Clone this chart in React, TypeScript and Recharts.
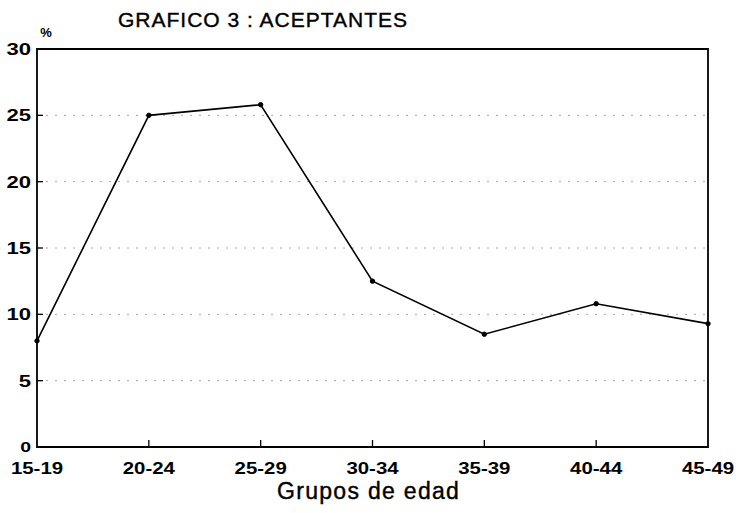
import React from "react";
import {
  LineChart,
  Line,
  XAxis,
  YAxis,
  CartesianGrid,
  ReferenceArea,
} from "recharts";

const categories = ["15-19", "20-24", "25-29", "30-34", "35-39", "40-44", "45-49"];
const aceptantes = [8.0, 25.0, 25.8, 12.5, 8.5, 10.8, 9.3];
const yTicks = [0, 5, 10, 15, 20, 25, 30];
const title = "GRAFICO 3 : ACEPTANTES";
const xTitle = "Grupos de edad";
const yUnit = "%";

const data = categories.map((c, i) => ({ grupo: c, valor: aceptantes[i] }));

const FONT = "'Liberation Sans', Arial, Helvetica, sans-serif";

const XTick = (props: any) => {
  const { x, y, payload, index } = props;
  const last = index === categories.length - 1;
  return (
    <g>
      {index > 0 && !last && (
        <line x1={x} y1={y} x2={x} y2={y - 7} stroke="#000" strokeWidth={1.3} />
      )}
      <text
        transform={`translate(${x},${y + 27}) scale(1.2,1)`}
        x={0}
        y={0}
        textAnchor="middle"
        fontFamily={FONT}
        fontWeight="bold"
        fontSize={17}
        fill="#000"
      >
        {payload.value}
      </text>
    </g>
  );
};

const YTick = (props: any) => {
  const { x, y, payload } = props;
  const v = payload.value;
  return (
    <g>
      {v > 0 && v < 30 && (
        <line x1={x} y1={y} x2={x + 6} y2={y} stroke="#000" strokeWidth={1.3} />
      )}
      <text
        transform={`translate(${x - 6},${y + (v === 0 ? 5 : 6)}) scale(1.3,1)`}
        x={0}
        y={0}
        textAnchor="end"
        fontFamily={FONT}
        fontWeight="bold"
        fontSize={v === 0 ? 15 : 17}
        fill="#000"
      >
        {v}
      </text>
    </g>
  );
};

export default function App() {
  return (
    <div style={{ position: "absolute", left: 0, top: 0, width: 736, height: 513, background: "#fff" }}>
      <LineChart
        width={736}
        height={513}
        data={data}
        margin={{ top: 49, right: 28, left: 0, bottom: 0 }}
      >
        <CartesianGrid
          horizontal={true}
          vertical={false}
          stroke="#a8a8a8"
          strokeDasharray="2 7"
        />
        <XAxis
          dataKey="grupo"
          scale="point"
          padding={{ left: 0, right: 0 }}
          height={66}
          tickSize={0}
          tickMargin={0}
          tickLine={false}
          axisLine={false}
          tick={<XTick />}
          interval={0}
        />
        <YAxis
          domain={[0, 30]}
          ticks={yTicks}
          width={37}
          tickSize={0}
          tickMargin={0}
          tickLine={false}
          axisLine={false}
          tick={<YTick />}
          interval={0}
        />
        <ReferenceArea
          x1={categories[0]}
          x2={categories[categories.length - 1]}
          y1={0}
          y2={30}
          fill="none"
          stroke="#000"
          strokeWidth={1.8}
          ifOverflow="visible"
        />
        <Line
          type="linear"
          dataKey="valor"
          stroke="#000"
          strokeWidth={1.6}
          dot={{ r: 2.2, fill: "#000", stroke: "#000", strokeWidth: 1 }}
          isAnimationActive={false}
        />
        <text
          x={118}
          y={27}
          textAnchor="start"
          fontFamily={FONT}
          fontSize={21}
          letterSpacing={1}
          stroke="#000"
          strokeWidth={0.4}
          fill="#000"
        >
          {title}
        </text>
        <text
          x={46}
          y={37}
          textAnchor="middle"
          fontFamily={FONT}
          fontWeight="bold"
          fontSize={13}
          fill="#000"
        >
          {yUnit}
        </text>
        <text
          x={277}
          y={499}
          textAnchor="start"
          fontFamily={FONT}
          fontSize={23}
          letterSpacing={1.3}
          stroke="#000"
          strokeWidth={0.4}
          fill="#000"
        >
          {xTitle}
        </text>
      </LineChart>
    </div>
  );
}
